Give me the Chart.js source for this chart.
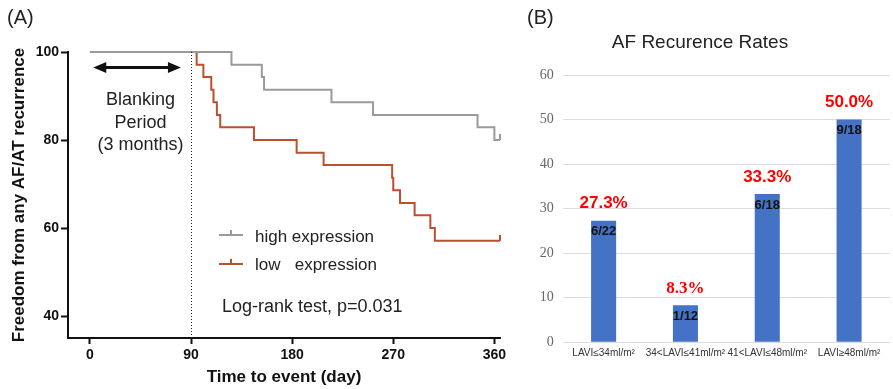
<!DOCTYPE html>
<html>
<head>
<meta charset="utf-8">
<script src="https://cdn.jsdelivr.net/npm/chart.js@4.4.1/dist/chart.umd.min.js"></script>
<style>
  html,body{margin:0;padding:0;background:#fff;}
  #wrap{position:relative;width:893px;height:389px;overflow:hidden;}
  #kmChart{position:absolute;left:0;top:0;}
  #barChart{position:absolute;left:510px;top:0;}
</style>
</head>
<body>
<div id="wrap">
  <canvas id="kmChart" width="510" height="389"></canvas>
  <canvas id="barChart" width="383" height="389"></canvas>
</div>
<script>
// panel A - Kaplan-Meier, freedom from AF/AT (%), by day
const highDays = [0, 126, 153, 155, 215, 252, 345, 360, 365];
const highSurv = [100, 97.1, 94.3, 91.4, 88.6, 85.7, 82.9, 80.0, 80.0];
const lowDays = [0, 95, 101, 108, 110, 113, 116, 146, 184, 208, 269, 270, 276, 289, 303, 307, 365];
const lowSurv = [100, 97.1, 94.3, 91.4, 88.6, 85.7, 82.9, 80.0, 77.1, 74.3, 71.4, 68.6, 65.7, 62.9, 60.0, 57.1, 57.1];
const dayTicks = [0, 90, 180, 270, 360];
const survTicks = [40, 60, 80, 100];
const blankingEnd = 90;

// panel B - recurrence by LAVI group
const laviGroups = ['LAVI≤34ml/m²', '34<LAVI≤41ml/m²', '41<LAVI≤48ml/m²', 'LAVI≥48ml/m²'];
const recurRates = [27.3, 8.3, 33.3, 50.0];
const recurCounts = ['6/22', '1/12', '6/18', '9/18'];

const SANS = 'Arial, "Liberation Sans", sans-serif';
const SERIF = '"Liberation Serif", "Times New Roman", serif';
Chart.defaults.font.family = SANS;
Chart.defaults.animation = false;

const GREY = '#9a9a9a';
const RUST = '#b9502e';

function censorMark(color){
  const c = document.createElement('canvas');
  c.width = 2; c.height = 12;
  const g = c.getContext('2d');
  g.fillStyle = color;
  g.fillRect(0, 0, 2, 6);
  return c;
}

function kmSet(label, days, surv, color){
  const last = days.length - 1;
  const mark = censorMark(color);
  return {
    label,
    data: days.map((d, i) => ({x: d, y: surv[i]})),
    borderColor: color,
    backgroundColor: color,
    borderWidth: 2,
    stepped: 'before',
    fill: false,
    pointRadius: c => c.dataIndex === last ? 1 : 0,
    pointStyle: c => c.dataIndex === last ? mark : 'circle',
    clip: 4
  };
}

const kmDecor = {
  id: 'kmDecor',
  afterDatasetsDraw(chart){
    const {ctx, scales:{x, y}, chartArea} = chart;
    ctx.save();
    // blanking line
    const bx = Math.round(x.getPixelForValue(blankingEnd)) + 0.5;
    ctx.strokeStyle = '#222';
    ctx.lineWidth = 1;
    ctx.setLineDash([1, 2]);
    ctx.beginPath(); ctx.moveTo(bx, chartArea.top); ctx.lineTo(bx, chartArea.bottom); ctx.stroke();
    ctx.setLineDash([]);

    // double arrow
    const ax1 = x.getPixelForValue(3), ax2 = x.getPixelForValue(81), ay = y.getPixelForValue(96.5);
    ctx.strokeStyle = '#111'; ctx.fillStyle = '#111'; ctx.lineWidth = 3;
    ctx.beginPath(); ctx.moveTo(ax1 + 8, ay); ctx.lineTo(ax2 - 8, ay); ctx.stroke();
    ctx.beginPath(); ctx.moveTo(ax1, ay); ctx.lineTo(ax1 + 13, ay - 5.5); ctx.lineTo(ax1 + 13, ay + 5.5); ctx.closePath(); ctx.fill();
    ctx.beginPath(); ctx.moveTo(ax2, ay); ctx.lineTo(ax2 - 13, ay - 5.5); ctx.lineTo(ax2 - 13, ay + 5.5); ctx.closePath(); ctx.fill();

    ctx.fillStyle = '#222';
    ctx.font = '18px ' + SANS;
    ctx.textAlign = 'center'; ctx.textBaseline = 'alphabetic';
    const tx = x.getPixelForValue(45);
    ctx.fillText('Blanking', tx, 105);
    ctx.fillText('Period', tx, 127.5);
    ctx.fillText('(3 months)', tx, 150);

    // legend
    const rows = [[0, 235, 241.5], [1, 264, 270]];
    chart.data.datasets.forEach((ds, i) => {
      const r = rows[i];
      ctx.strokeStyle = ds.borderColor; ctx.lineWidth = 2;
      ctx.beginPath(); ctx.moveTo(219, r[1]); ctx.lineTo(243, r[1]); ctx.moveTo(231, r[1]); ctx.lineTo(231, r[1] - 5); ctx.stroke();
      ctx.fillStyle = '#222'; ctx.font = '17px ' + SANS; ctx.textAlign = 'left';
      ctx.fillText(ds.label, 255, r[2]);
    });

    ctx.font = '18px ' + SANS;
    ctx.fillText('Log-rank test, p=0.031', 222, 312);

    ctx.font = '20px ' + SANS;
    ctx.textBaseline = 'middle';
    ctx.fillText('(A)', 7, 18);
    ctx.restore();
  }
};

new Chart(document.getElementById('kmChart'), {
  type: 'line',
  data: {
    datasets: [
      kmSet('high expression', highDays, highSurv, GREY),
      kmSet('low   expression', lowDays, lowSurv, RUST)
    ]
  },
  options: {
    responsive: false,
    layout: {padding: {top: 52, right: 10, bottom: 0, left: 0}},
    plugins: {legend: {display: false}, tooltip: {enabled: false}},
    scales: {
      x: {
        type: 'linear', min: -19.5, max: 365,
        afterBuildTicks: s => { s.ticks = dayTicks.map(v => ({value: v})); },
        afterFit: s => { s.height = 51; },
        border: {color: '#111', width: 2},
        grid: {drawOnChartArea: false, tickLength: 6, tickWidth: 2, tickColor: '#111'},
        ticks: {color: '#111', font: {size: 14, weight: 'bold'}, padding: 3},
        title: {display: true, text: 'Time to event (day)', color: '#111',
                font: {size: 17, weight: 'bold'}, padding: {top: 0, bottom: 1}}
      },
      y: {
        min: 35, max: 100,
        afterBuildTicks: s => { s.ticks = survTicks.map(v => ({value: v})); },
        afterFit: s => { s.width = 68; },
        border: {color: '#111', width: 2},
        grid: {drawOnChartArea: false, tickLength: 7, tickWidth: 2, tickColor: '#111'},
        ticks: {color: '#111', font: {size: 14, weight: 'bold'}, padding: 2},
        title: {display: true, text: 'Freedom from any AF/AT recurrence', color: '#111',
                font: {size: 17, weight: 'bold'}, padding: {top: 9, bottom: 0}}
      }
    }
  },
  plugins: [kmDecor]
});

// bar labels
const rateFonts = [SANS, SERIF, SANS, SANS];
const barLabels = {
  id: 'barLabels',
  afterDatasetsDraw(chart){
    const {ctx} = chart;
    const meta = chart.getDatasetMeta(0);
    ctx.save();
    ctx.textAlign = 'center'; ctx.textBaseline = 'middle';
    meta.data.forEach((bar, i) => {
      ctx.fillStyle = '#ff0000';
      ctx.font = 'bold 17px ' + rateFonts[i];
      ctx.fillText(recurRates[i].toFixed(1) + '%', bar.x, bar.y - 17);
      ctx.fillStyle = '#111';
      ctx.font = 'bold 13px ' + SANS;
      ctx.fillText(recurCounts[i], bar.x, bar.y + 11);
    });
    ctx.fillStyle = '#222';
    ctx.font = '20px ' + SANS;
    ctx.textAlign = 'left';
    ctx.fillText('(B)', 17, 18);
    ctx.restore();
  }
};

new Chart(document.getElementById('barChart'), {
  type: 'bar',
  data: {
    labels: laviGroups,
    datasets: [{
      data: recurRates,
      backgroundColor: '#4472c4',
      borderWidth: 0,
      categoryPercentage: 1,
      barPercentage: 0.306
    }]
  },
  options: {
    responsive: false,
    layout: {padding: {top: 0, right: 3, bottom: 0, left: 0}},
    plugins: {
      legend: {display: false}, tooltip: {enabled: false},
      title: {display: true, text: 'AF Recurence Rates', color: '#222',
              font: {size: 19, weight: 'normal'}, padding: {top: 31.6, bottom: 20.6}}
    },
    scales: {
      x: {
        afterFit: s => { s.height = 46.7; },
        grid: {display: false, drawTicks: false},
        border: {display: false},
        ticks: {color: '#333', font: {size: 10}, padding: 5, maxRotation: 0, autoSkip: false}
      },
      y: {
        min: 0, max: 60,
        afterFit: s => { s.width = 52.7; },
        border: {display: false},
        grid: {color: '#dcdcdc', drawTicks: false},
        ticks: {stepSize: 10, color: '#666', font: {size: 14, family: SERIF}, padding: 9}
      }
    }
  },
  plugins: [barLabels]
});
</script>
</body>
</html>
